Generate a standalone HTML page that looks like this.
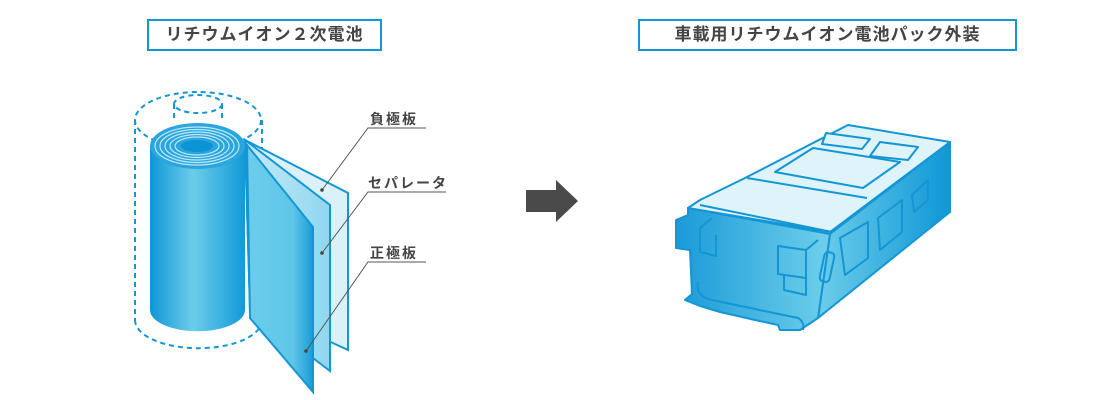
<!DOCTYPE html>
<html><head><meta charset="utf-8"><style>
html,body{margin:0;padding:0;background:#fff;}
body{width:1100px;height:400px;overflow:hidden;position:relative;font-family:"Liberation Sans","Noto Sans CJK JP",sans-serif;}
.t{position:absolute;border:2px solid #1496d4;box-sizing:border-box;height:32px;top:19px;color:#444;font-size:17px;font-weight:bold;text-align:center;line-height:28px;letter-spacing:1px;}
.l{position:absolute;font-size:14px;font-weight:bold;color:#444;letter-spacing:2px;}
</style></head><body>
<div class="t" style="left:147px;width:235px;">リチウムイオン２次電池</div>
<div class="t" style="left:638px;width:379px;">車載用リチウムイオン電池パック外装</div>
<div class="l" style="left:370px;top:109px;">負極板</div>
<div class="l" style="left:368px;top:173px;">セパレータ</div>
<div class="l" style="left:370px;top:243px;">正極板</div>
<svg width="1100" height="400" style="position:absolute;left:0;top:0">
<defs>
<linearGradient id="cyl" x1="0" x2="1"><stop offset="0" stop-color="#0f96d6"/><stop offset=".45" stop-color="#6ccdea"/><stop offset="1" stop-color="#129ad8"/></linearGradient>
<linearGradient id="sh1" x1="0" x2="1"><stop offset="0" stop-color="#6ccdea"/><stop offset=".7" stop-color="#5ec6e8"/><stop offset="1" stop-color="#1a9bd8"/></linearGradient>
<linearGradient id="sh2" x1="0" x2="1"><stop offset="0" stop-color="#c6ebf7"/><stop offset="1" stop-color="#8fd6ef"/></linearGradient>
<linearGradient id="fr" x1="0" x2="1"><stop offset="0" stop-color="#1a9ad8"/><stop offset="1" stop-color="#6fd0eb"/></linearGradient>
<linearGradient id="sd" x1="0" x2="1"><stop offset="0" stop-color="#6dcdea"/><stop offset="1" stop-color="#0f97d6"/></linearGradient>
</defs>
<g fill="none" stroke="#1496d4" stroke-width="2" stroke-dasharray="5,4">
<ellipse cx="198" cy="120" rx="63" ry="28"/>
<line x1="135" y1="120" x2="135" y2="320"/><line x1="262" y1="120" x2="262" y2="320"/>
<path d="M135 320 A63 28 0 0 0 262 320"/>
<ellipse cx="198" cy="104" rx="24" ry="9"/>
<line x1="174" y1="104" x2="174" y2="122"/><line x1="222" y1="104" x2="222" y2="122"/>
</g>
<polygon points="245,140 348,193 348,350 250,305" fill="#daf1fa" stroke="#1496d4" stroke-width="2"/>
<polygon points="245,140 330,205 330,371 250,310" fill="url(#sh2)" stroke="#1496d4" stroke-width="2"/>
<polygon points="247,145 313,227 313,392 250,318" fill="url(#sh1)" stroke="#1496d4" stroke-width="2"/>
<path d="M150 146 L150 310 A47 21 0 0 0 245 310 L245 146 Z" fill="url(#cyl)"/>
<ellipse cx="197.5" cy="146" rx="47.5" ry="23" fill="#2aa6de"/>
<g fill="none" stroke="#bfe8f6" stroke-width="1.2">
<ellipse cx="197" cy="146" rx="42" ry="19"/><ellipse cx="197" cy="146" rx="37" ry="16.5"/><ellipse cx="197" cy="146" rx="32" ry="14"/><ellipse cx="197" cy="146" rx="27" ry="11.5"/><ellipse cx="197" cy="146" rx="22" ry="9"/>
</g>
<ellipse cx="197" cy="146" rx="16" ry="6" fill="#0c93d4"/>
<g stroke="#555" stroke-width="1" fill="none">
<polyline points="426,128 368,128 322,190"/>
<polyline points="446,192 368,192 322,253"/>
<polyline points="426,262 368,262 306,351"/>
</g>
<g fill="#444"><circle cx="322" cy="190" r="1.8"/><circle cx="322" cy="253" r="1.8"/><circle cx="306" cy="351" r="1.8"/></g>
<polygon points="526,190 556,190 556,180 578,201 556,222 556,212 526,212" fill="#4a4a4a"/>
<g stroke="#1496d4" stroke-width="2" stroke-linejoin="round">
<polygon points="830,234 950,142 950,212 818,318" fill="url(#sd)"/>
<path d="M688,208 L830,234 L818,318 L800,330 L780,330 L778,325 L755,320 L720,312 L700,306 L685,300 L692,294 L690,250 L676,248 L676,220 L688,215 Z" fill="url(#fr)"/>
<polygon points="700,200 745,178 848,125 950,142 830,232 688,208" fill="#dff3fb"/>
</g>
<g fill="none" stroke="#1496d4" stroke-width="2" stroke-linejoin="round">
<polygon points="826,133 870,139 862,149 822,144" fill="#dff3fb"/>
<polygon points="880,142 918,147 908,160 870,156"/>
<polygon points="813,148 900,162 863,188 775,172"/>
<line x1="747" y1="178" x2="867" y2="198"/>
<line x1="700" y1="205" x2="832" y2="232"/>
<polygon points="840,238 868,222 868,258 845,275"/>
<polygon points="878,218 902,200 902,232 880,250"/>
<polygon points="912,195 928,180 928,200 914,212"/>
<rect x="822" y="252" width="10" height="30" rx="4" transform="rotate(12 827 267)"/>
<polygon points="778,246 806,250 806,278 778,274"/>
<polyline points="806,250 818,240"/>
<polyline points="784,275 784,290 806,295 806,278"/>
<polyline points="700,228 712,218"/><polyline points="700,228 700,252 716,256 716,235"/>
<path d="M698,282 Q695,296 712,300 L798,318 Q805,322 803,330"/>
</g>
</svg>
</body></html>
